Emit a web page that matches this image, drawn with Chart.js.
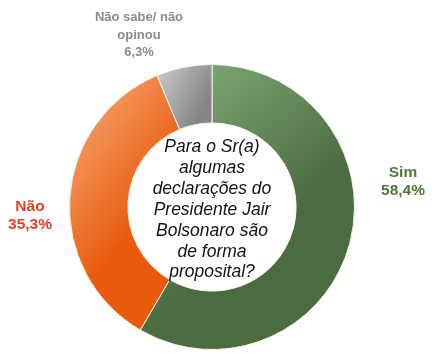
<!DOCTYPE html>
<html>
<head>
<meta charset="utf-8">
<script src="https://cdn.jsdelivr.net/npm/chart.js@4/dist/chart.umd.min.js"></script>
<style>
  body { margin: 0; background: #ffffff; }
  #wrap { position: relative; width: 437px; height: 359px; font-family: "Liberation Sans", Arial, sans-serif; }
  #chart { position: absolute; left: 0; top: 0; }
  .lbl { position: absolute; text-align: center; font-weight: bold; white-space: pre-line; }
  #question { position: absolute; left: 117px; top: 136px; width: 190px; text-align: center;
              font-style: italic; font-size: 17.5px; line-height: 20.9px; color: #141414; }
</style>
</head>
<body>
<div id="wrap">
  <canvas id="chart" width="437" height="359"></canvas>
  <div id="question"></div>
  <div class="lbl" id="lbl0"></div>
  <div class="lbl" id="lbl1"></div>
  <div class="lbl" id="lbl2"></div>
</div>
<script>
// Data
const categories = ['Sim', 'Não', 'Não sabe/ não\nopinou'];
const percentValues = [58.4, 35.3, 6.3];
const baseColors = ['#4b6b41', '#e85a0c', '#858585'];
const lightColors = ['#7aa472', '#f49a62', '#cfcfcf'];
const labelColors = ['#4e7a33', '#e8411b', '#8c8c8c'];
const questionText = 'Para o Sr(a)\nalgumas\ndeclarações do\nPresidente Jair\nBolsonaro são\nde forma\nproposital?';

// label boxes (center x, first line center y, font size, line height)
const labelSpots = [
    { x: 403, y: 172, size: 15.5, lh: 18 },
    { x: 30, y: 206, size: 15.5, lh: 18 },
    { x: 139, y: 17, size: 13, lh: 17.5 }
];

function fmt(v) {
    return v.toFixed(1).replace('.', ',') + '%';
}

// segment shading: lighter near the start edge, like the original
function segmentFill(context) {
    const i = context.dataIndex;
    const chart = context.chart;
    const area = chart.chartArea;
    if (!area) return baseColors[i];
    const ctx = chart.ctx;
    const cx = (area.left + area.right) / 2;
    const cy = (area.top + area.bottom) / 2;
    const r = Math.min(area.right - area.left, area.bottom - area.top) / 2;
    let g;
    if (i === 0) {
        g = ctx.createLinearGradient(cx, area.top, cx + r * 0.75, cy - r * 0.1);
    } else if (i === 1) {
        g = ctx.createLinearGradient(cx - r * 0.95, cy - r * 0.55, cx - r * 0.35, cy - r * 0.1);
    } else {
        g = ctx.createLinearGradient(cx - r * 0.4, area.top, cx, area.top + r * 0.2);
    }
    g.addColorStop(0, lightColors[i]);
    g.addColorStop(1, baseColors[i]);
    return g;
}

const canvas = document.getElementById('chart');
const chart = new Chart(canvas, {
    type: 'doughnut',
    data: {
        labels: categories,
        datasets: [{
            data: percentValues,
            backgroundColor: segmentFill,
            borderColor: '#fbf3ea',
            borderWidth: 1
        }]
    },
    options: {
        responsive: false,
        animation: false,
        cutout: '59%',
        rotation: 0,
        layout: { padding: { left: 69, right: 82, top: 64, bottom: 9 } },
        plugins: {
            legend: { display: false },
            tooltip: { enabled: false }
        }
    }
});

// text overlays
const q = document.getElementById('question');
q.style.whiteSpace = 'pre-line';
q.textContent = questionText;

categories.forEach(function(cat, i) {
    const el = document.getElementById('lbl' + i);
    const spot = labelSpots[i];
    el.textContent = cat + '\n' + fmt(percentValues[i]);
    el.style.color = labelColors[i];
    el.style.fontSize = spot.size + 'px';
    el.style.lineHeight = spot.lh + 'px';
    el.style.width = '140px';
    el.style.left = (spot.x - 70) + 'px';
    el.style.top = (spot.y - spot.lh / 2) + 'px';
});
</script>
</body>
</html>
